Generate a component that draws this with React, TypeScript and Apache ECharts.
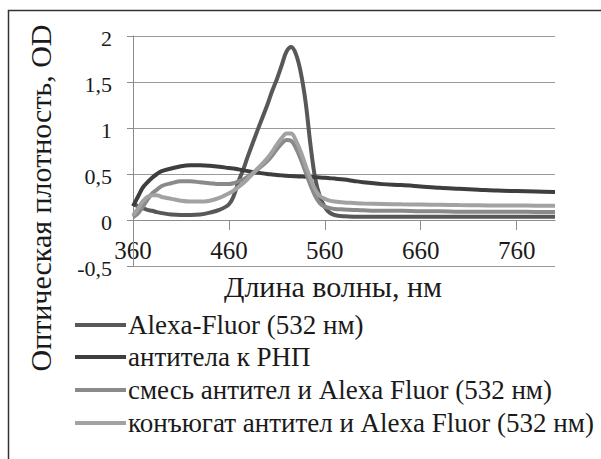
import React, { useEffect, useRef } from "react";
import * as echarts from "echarts";

const wavelengths = [360, 365, 370, 375, 380, 385, 390, 400, 410, 420, 430, 440, 450, 460, 465, 470, 475, 480, 490, 500, 505, 510, 515, 520, 525, 530, 535, 540, 545, 550, 555, 560, 565, 570, 580, 590, 600, 620, 640, 660, 680, 700, 720, 740, 760, 780, 800];

const alexaFluor = [0.18, 0.15, 0.13, 0.11, 0.1, 0.085, 0.075, 0.06, 0.055, 0.055, 0.06, 0.08, 0.11, 0.17, 0.26, 0.42, 0.55, 0.7, 0.98, 1.25, 1.4, 1.53, 1.68, 1.83, 1.88, 1.8, 1.6, 1.28, 0.82, 0.45, 0.25, 0.14, 0.08, 0.055, 0.04, 0.035, 0.035, 0.035, 0.035, 0.035, 0.035, 0.035, 0.035, 0.035, 0.035, 0.035, 0.035];

const antibodies = [0.15, 0.25, 0.35, 0.41, 0.46, 0.5, 0.53, 0.56, 0.585, 0.595, 0.595, 0.59, 0.58, 0.565, 0.56, 0.55, 0.54, 0.53, 0.515, 0.5, 0.495, 0.49, 0.485, 0.48, 0.478, 0.475, 0.473, 0.47, 0.468, 0.465, 0.463, 0.46, 0.455, 0.45, 0.44, 0.425, 0.41, 0.39, 0.38, 0.365, 0.35, 0.34, 0.33, 0.32, 0.315, 0.31, 0.305];

const mixture = [0.03, 0.07, 0.14, 0.22, 0.29, 0.33, 0.37, 0.4, 0.42, 0.42, 0.41, 0.4, 0.39, 0.39, 0.4, 0.42, 0.44, 0.47, 0.55, 0.64, 0.7, 0.77, 0.83, 0.87, 0.86, 0.78, 0.66, 0.52, 0.38, 0.26, 0.18, 0.145, 0.13, 0.12, 0.115, 0.11, 0.105, 0.1, 0.1, 0.095, 0.095, 0.09, 0.09, 0.09, 0.09, 0.088, 0.088];

const conjugate = [0.05, 0.12, 0.2, 0.25, 0.27, 0.27, 0.25, 0.23, 0.21, 0.2, 0.2, 0.21, 0.24, 0.29, 0.32, 0.36, 0.4, 0.45, 0.56, 0.67, 0.74, 0.82, 0.89, 0.94, 0.94, 0.86, 0.74, 0.59, 0.45, 0.33, 0.26, 0.23, 0.21, 0.2, 0.19, 0.185, 0.18, 0.175, 0.17, 0.168, 0.165, 0.162, 0.16, 0.158, 0.157, 0.156, 0.155];

const seriesNames = [
  "Alexa-Fluor (532 нм)",
  "антитела к РНП",
  "смесь антител и Alexa Fluor (532 нм)",
  "конъюгат антител и Alexa Fluor (532 нм)",
];
const seriesColors = ["#585858", "#3e3e3e", "#8a8a8a", "#a2a2a2"];
const xTickValues = [360, 460, 560, 660, 760];
const yTickValues = [-0.5, 0, 0.5, 1, 1.5, 2];
const yTickLabels = ["-0,5", "0", "0,5", "1", "1,5", "2"];

const FONT = "Liberation Serif";
const TEXT_COLOR = "#1a1a1a";

export default function App() {
  const ref = useRef<HTMLDivElement>(null);
  useEffect(() => {
    if (!ref.current) return;
    const chart = echarts.init(ref.current, undefined, { renderer: "svg" });
    const allValues = [alexaFluor, antibodies, mixture, conjugate];
    chart.setOption({
      animation: false,
      backgroundColor: "#ffffff",
      grid: { left: 133, right: 46, top: 36, bottom: 193 },
      xAxis: {
        type: "value",
        min: 360,
        max: 800,
        interval: 100,
        offset: -46,
        axisLine: { onZero: false, lineStyle: { color: "#8c8c8c", width: 1 } },
        axisTick: { show: true, length: 10, customValues: xTickValues, lineStyle: { color: "#8c8c8c" } },
        axisLabel: { show: false },
        splitLine: { show: false },
      },
      yAxis: {
        type: "value",
        min: -0.5,
        max: 2,
        interval: 0.5,
        axisLine: { show: true, lineStyle: { color: "#8c8c8c", width: 1 } },
        axisTick: { show: true, length: 6, lineStyle: { color: "#8c8c8c" } },
        axisLabel: { show: false },
        splitLine: { show: true, lineStyle: { color: "#9a9a9a", width: 1 } },
      },
      series: seriesNames.map((name, i) => ({
        name,
        type: "line",
        symbol: "none",
        smooth: 0.35,
        color: seriesColors[i],
        lineStyle: { color: seriesColors[i], width: 4 },
        itemStyle: { color: seriesColors[i] },
        data: wavelengths.map((w, j) => [w, allValues[i][j]]),
      })),
    });

    const toPx = (x: number, y: number) =>
      chart.convertToPixel({ xAxisIndex: 0, yAxisIndex: 0 }, [x, y]) as number[];
    const y0 = toPx(360, 0)[1];
    const x0 = toPx(360, 0)[0];

    const xLabels = xTickValues.map((v) => ({
      type: "text",
      x: toPx(v, 0)[0],
      y: y0 + 30,
      style: {
        text: String(v),
        fontFamily: FONT,
        fontSize: 25,
        fill: TEXT_COLOR,
        align: "center",
        verticalAlign: "middle",
      },
    }));
    const yLabels = yTickValues.map((v, i) => ({
      type: "text",
      x: x0 - 21,
      y: toPx(360, v)[1] + 2,
      style: {
        text: yTickLabels[i],
        fontFamily: FONT,
        fontSize: 22,
        fill: TEXT_COLOR,
        align: "right",
        verticalAlign: "middle",
      },
    }));
    const legendRowsY = [325, 357, 390, 423];
    const legendItems: any[] = [];
    seriesNames.forEach((name, i) => {
      legendItems.push({
        type: "line",
        shape: { x1: 75, y1: legendRowsY[i], x2: 126, y2: legendRowsY[i] },
        style: { stroke: seriesColors[i], lineWidth: 4 },
      });
      legendItems.push({
        type: "text",
        x: 128,
        y: legendRowsY[i],
        style: {
          text: name,
          fontFamily: FONT,
          fontSize: 27,
          fill: TEXT_COLOR,
          align: "left",
          verticalAlign: "middle",
        },
      });
    });

    chart.setOption({
      graphic: [
        {
          type: "rect",
          shape: { x: 8.5, y: 10.5, width: 620, height: 480 },
          style: { fill: "none", stroke: "#333333", lineWidth: 1.5 },
          silent: true,
        },
        {
          type: "text",
          x: 40,
          y: 198,
          rotation: Math.PI / 2,
          style: {
            text: "Оптическая плотность, OD",
            fontFamily: FONT,
            fontSize: 30,
            fill: TEXT_COLOR,
            align: "center",
            verticalAlign: "middle",
          },
        },
        {
          type: "text",
          x: 333,
          y: 286,
          style: {
            text: "Длина волны, нм",
            fontFamily: FONT,
            fontSize: 30,
            fill: TEXT_COLOR,
            align: "center",
            verticalAlign: "middle",
          },
        },
        ...xLabels,
        ...yLabels,
        ...legendItems,
      ],
    });
    return () => chart.dispose();
  }, []);
  return (
    <div
      ref={ref}
      style={{ position: "absolute", left: 0, top: 0, width: 601, height: 459 }}
    />
  );
}
